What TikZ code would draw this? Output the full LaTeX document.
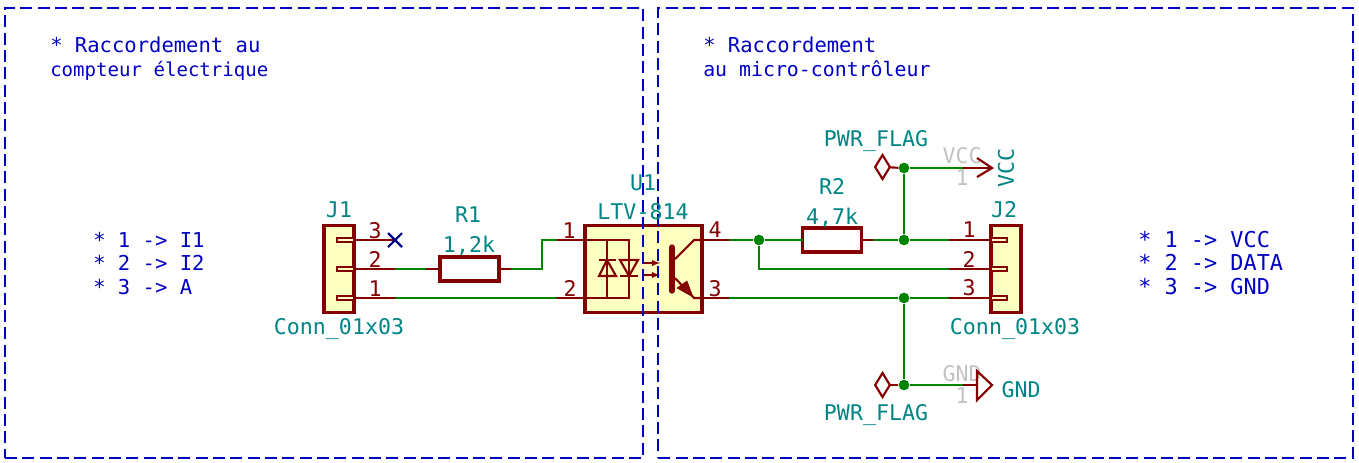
\documentclass[tikz,border=0pt]{standalone}
\usepackage{fontspec}
\setmainfont{DejaVu Sans Mono}
\usetikzlibrary{shapes.geometric, arrows}
\definecolor{kimaroon}{HTML}{840000}
\definecolor{kigreen}{HTML}{008400}
\definecolor{kiblue}{HTML}{0000C2}
\definecolor{kiteal}{HTML}{008484}
\definecolor{kifill}{HTML}{FFFFC2}
\definecolor{kigray}{HTML}{C2C2C2}
\tikzstyle{zone} = [rectangle, draw=kiblue, line width=1.6pt, dash pattern=on 9pt off 4pt, inner sep=0]
\tikzstyle{part} = [rectangle, draw=kimaroon, fill=kifill, line width=2.7pt, inner sep=0, outer sep=0]
\tikzstyle{resistor} = [rectangle, draw=kimaroon, line width=2.7pt, inner sep=0, outer sep=0, minimum width=44pt, minimum height=18pt]
\tikzstyle{flag} = [diamond, draw=kimaroon, line width=1.6pt, inner sep=0, outer sep=0, minimum width=11pt, minimum height=18pt]
\tikzstyle{junction} = [circle, fill=kigreen, inner sep=0, minimum size=8pt]
\tikzstyle{wire} = [draw=kigreen, line width=1.6pt]
\tikzstyle{pin} = [draw=kimaroon, line width=1.6pt]
\tikzstyle{pinbox} = [draw=kimaroon, fill=kifill, line width=0.9pt]
\tikzstyle{label} = [text=kiteal, anchor=base, inner sep=0, font=\fontsize{16.2}{18}\selectfont]
\tikzstyle{pinnum} = [text=kimaroon, anchor=base, inner sep=0, font=\fontsize{16.2}{18}\selectfont]
\tikzstyle{ghost} = [text=kigray, anchor=base, inner sep=0, font=\fontsize{16.2}{18}\selectfont]
\tikzstyle{note} = [text=kiblue, anchor=base west, inner sep=0, font=\fontsize{15.4}{18}\selectfont]
\tikzstyle{notesmall} = [note, font=\fontsize{14.3}{18}\selectfont]
\tikzstyle{notemid} = [note, font=\fontsize{14.9}{18}\selectfont]
\tikzstyle{notewide} = [note, font=\fontsize{16.4}{18}\selectfont]

\begin{document}
\begin{tikzpicture}[x=0.75pt, y=-0.75pt]
        \useasboundingbox (0,0) rectangle (1359,462);

        % connecteur J1, resistances, photocoupleur
        \node[part, minimum width=22.5pt, minimum height=65pt] (j1) at (339,269) {};
        \node[part, minimum width=88pt, minimum height=65pt] (u1) at (643.5,269) {};
        \node[part, minimum width=22.5pt, minimum height=65pt] (j2) at (1006,269) {};
        \node[resistor] (r1) at (469.5,269) {};
        \node[resistor] (r2) at (832,240) {};

        \coordinate (j1a) at (354,240);
        \coordinate (j1b) at (354,269);
        \coordinate (j1c) at (354,298);
        \coordinate (j1x) at (395,240);
        \coordinate (j1y) at (395,269);
        \coordinate (j1z) at (395,298);
        \coordinate (r1l) at (426,269);
        \coordinate (r1r) at (511,269);
        \coordinate (u1a) at (585,240);
        \coordinate (u1b) at (585,298);
        \coordinate (u1c) at (702,240);
        \coordinate (u1d) at (702,298);
        \coordinate (u1e) at (557,240);
        \coordinate (u1f) at (557,298);
        \coordinate (u1g) at (729,240);
        \coordinate (u1h) at (729,298);
        \coordinate (r2r) at (873,240);
        \coordinate (j2a) at (991,240);
        \coordinate (j2b) at (991,269);
        \coordinate (j2c) at (991,298);
        \coordinate (j2x) at (949,240);
        \coordinate (j2y) at (949,269);
        \coordinate (j2z) at (949,298);
        \coordinate (vcc) at (992,168);
        \coordinate (vccw) at (963,168);
        \coordinate (gnd) at (977,385);
        \coordinate (gndw) at (963,385);

        \node[ghost] (vccname) at (962,163) {VCC};
        \node[ghost] (vccnum) at (962,185) {1};
        \node[ghost] (gndname) at (962,381) {GND};
        \node[ghost] (gndnum) at (962,403) {1};

        % fils
        \draw [wire] (j1y) -- (r1l);
        \draw [wire] (r1r) -- (542,269) -- (542,240) -- (u1e);
        \draw [wire] (j1z) -- (u1f);
        \node[junction] (nd1) at (759,240) {};
        \node[junction] (nd2) at (904,240) {};
        \node[junction] (nd3) at (904,298) {};
        \node[junction] (nd4) at (904,168) {};
        \node[junction] (nd5) at (904,385) {};
        \draw [wire] (u1g) -- (nd1) -- (r2.west);
        \draw [wire] (r2r) -- (nd2) -- (j2x);
        \draw [wire] (nd1) -- (759,269) -- (j2y);
        \draw [wire] (u1h) -- (nd3) -- (j2z);
        \draw [wire] (nd2) -- (nd4) -- (vccw);
        \draw [wire] (nd3) -- (nd5) -- (gndw);

        % broches
        \draw [pin] (j1a) -- (j1x);
        \draw [pin] (j1b) -- (j1y);
        \draw [pin] (j1c) -- (j1z);
        \draw [pin] (r1l) -- (r1.west);
        \draw [pin] (r1.east) -- (r1r);
        \draw [pin] (u1e) -- (u1a);
        \draw [pin] (u1f) -- (u1b);
        \draw [pin] (u1c) -- (u1g);
        \draw [pin] (u1d) -- (u1h);
        \draw [pin] (r2.east) -- (r2r);
        \draw [pin] (j2x) -- (j2a);
        \draw [pin] (j2y) -- (j2b);
        \draw [pin] (j2z) -- (j2c);
        \draw [pinbox] (337,238) rectangle (354,242);
        \draw [pinbox] (337,267) rectangle (354,271);
        \draw [pinbox] (337,296) rectangle (354,300);
        \draw [pinbox] (991,238) rectangle (1007,242);
        \draw [pinbox] (991,267) rectangle (1007,271);
        \draw [pinbox] (991,296) rectangle (1007,300);
        \draw [draw=kiblue!70!black, line width=1.6pt] (388,233) -- (402,247) (388,247) -- (402,233);

        % symboles d'alimentation
        \node[flag] (flag1) at (882.5,167) {};
        \node[flag] (flag2) at (882.5,385) {};
        \draw [pin] (flag1) -- (nd4);
        \draw [pin] (flag2) -- (nd5);
        \draw [pin] (vccw) -- (vcc);
        \draw [pin] (977,158) -- (vcc) -- (977,177);
        \draw [pin] (gndw) -- (gnd);
        \draw [pin, line join=miter] (977,371) -- (992,385) -- (977,400) -- cycle;

        % photocoupleur
        \draw [pin] (u1a) -- (629,240) -- (629,298) -- (u1b);
        \draw [pin] (607,240) -- (607,298);
        \draw [pin, line width=2pt] (599,260) -- (616,260) (598,276) -- (616,276);
        \draw [pin] (607,260) -- (599,276) -- (616,276) -- cycle;
        \draw [pin, line width=2pt] (620,276) -- (638,276) (620,260) -- (638,260);
        \draw [pin] (629,276) -- (620,260) -- (638,260) -- cycle;
        \draw [pin, line width=1.1pt, -latex] (644,263) -- (660,263);
        \draw [pin, line width=1.1pt, -latex] (644,275) -- (660,275);
        \draw [pin, line width=4pt, line cap=round] (672,247) -- (672,291);
        \draw [pin] (675,259) -- (694,240) -- (u1c);
        \draw [pin] (675,278) -- (694,298) -- (u1d);
        \draw [draw=kimaroon, fill=kimaroon] (693,297) -- (677,288) -- (687,281) -- cycle;

        % cadres
        \node[zone, minimum width=478.5pt, minimum height=337.5pt] (zoneleft) at (324,233) {};
        \node[zone, minimum width=521pt, minimum height=337.5pt] (zoneright) at (1005.5,233) {};

        % textes
        \node[label] (j1name) at (339,217) {J1};
        \node[label] (j1val) at (339,334) {Conn\_01x03};
        \node[label] (r1name) at (468,222) {R1};
        \node[label] (r1val) at (469,252) {1,2k};
        \node[label] (u1name) at (643,190) {U1};
        \node[label] (u1val) at (643,219) {LTV-814};
        \node[label] (r2name) at (832,194) {R2};
        \node[label] (r2val) at (832,224) {4,7k};
        \node[label] (j2name) at (1004,217) {J2};
        \node[label] (j2val) at (1015,334) {Conn\_01x03};
        \node[label] (flagtop) at (876,146) {PWR\_FLAG};
        \node[label] (flagbot) at (876,420) {PWR\_FLAG};
        \node[label] (gndlab) at (1021,397) {GND};
        \node[label, rotate=90, anchor=center] (vcclab) at (1006,168) {VCC};

        \node[pinnum] (j1n3) at (375,238) {3};
        \node[pinnum] (j1n2) at (375,267) {2};
        \node[pinnum] (j1n1) at (375,296) {1};
        \node[pinnum] (u1n1) at (569,238) {1};
        \node[pinnum] (u1n2) at (570,296) {2};
        \node[pinnum] (u1n4) at (715,237) {4};
        \node[pinnum] (u1n3) at (715,296) {3};
        \node[pinnum] (j2n1) at (969,237) {1};
        \node[pinnum] (j2n2) at (969,267) {2};
        \node[pinnum] (j2n3) at (969,295) {3};

        \node[note] (noteleft) at (50,52) {* Raccordement au};
        \node[notesmall] (noteleftb) at (50,76) {compteur électrique};
        \node[note] (noteright) at (703,52) {* Raccordement};
        \node[notemid] (noterightb) at (703,76) {au micro-contrôleur};
        \node[note] (pinl1) at (93,247) {* 1 -> I1};
        \node[note] (pinl2) at (93,270) {* 2 -> I2};
        \node[note] (pinl3) at (93,294) {* 3 -> A};
        \node[notewide] (pinr1) at (1138,247) {* 1 -> VCC};
        \node[notewide] (pinr2) at (1138,270) {* 2 -> DATA};
        \node[notewide] (pinr3) at (1138,294) {* 3 -> GND};
    \end{tikzpicture}
\end{document}
